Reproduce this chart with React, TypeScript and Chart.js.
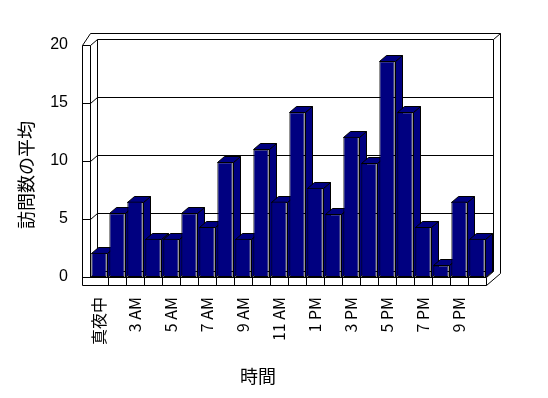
import React, { useEffect, useRef } from 'react';
import { Chart, registerables } from 'chart.js';
Chart.register(...registerables);

const hours = ['真夜中', '1 AM', '3 AM', '4 AM', '5 AM', '6 AM', '7 AM', '8 AM', '9 AM', '10 AM', '11 AM', '正午', '1 PM', '2 PM', '3 PM', '4 PM', '5 PM', '6 PM', '7 PM', '8 PM', '9 PM', '10 PM'];
const avgVisits = [2.1, 5.5, 6.5, 3.3, 3.3, 5.5, 4.3, 9.9, 3.3, 11.0, 6.5, 14.2, 7.7, 5.4, 12.1, 9.8, 18.6, 14.2, 4.3, 1.0, 6.5, 3.3];
const yTicks = [0, 5, 10, 15, 20];
const xTitle = '時間';
const yTitle = '訪問数の平均';

const NAVY = '#000080';
const DX = 7;
const DY = -6;
const WALL = 8;

const h = (v: number) => Math.round(v) + 0.5;

const frame3d = {
  id: 'frame3d',
  beforeDatasetsDraw(chart: any) {
    const { ctx, chartArea: a, scales } = chart;
    const ys = scales.y;
    const xs = scales.x;
    const L = a.left, R = a.right, T = a.top, B = a.bottom;
    ctx.save();
    ctx.lineWidth = 1;
    ctx.strokeStyle = '#000';
    const line = (pts: number[][]) => {
      ctx.beginPath();
      pts.forEach(([px, py], i) => (i ? ctx.lineTo(h(px), h(py)) : ctx.moveTo(h(px), h(py))));
      ctx.stroke();
    };
    // left wall front face
    line([[L - WALL, T], [L - WALL, B + WALL]]);
    line([[L, T], [L, B]]);
    // left wall top going back
    line([[L - WALL, T], [L, T + 2 * DY]]);
    // back wall outer top & right edge
    line([[L, T + 2 * DY], [R + 2 * DX, T + 2 * DY]]);
    line([[R + DX, T + DY], [R + 2 * DX, T + 2 * DY]]);
    line([[R + 2 * DX, T + 2 * DY], [R + 2 * DX, B + 2 * DY + WALL]]);
    // back wall inner face edges
    line([[L + DX, T + DY], [L + DX, B + DY]]);
    line([[R + DX, T + DY], [R + DX, B + DY]]);
    // gridlines
    yTicks.forEach((v) => {
      if (v === 0) return;
      const yy = ys.getPixelForValue(v);
      line([[L - WALL, yy], [L, yy], [L + DX, yy + DY], [R + DX, yy + DY]]);
    });
    // floor
    line([[L, B], [L + DX, B + DY], [R + DX, B + DY]]);
    line([[L - WALL, B], [R, B], [R + DX, B + DY]]);
    line([[L - WALL, B + WALL], [R, B + WALL], [R + 2 * DX, B + WALL + 2 * DY]]);
    line([[R, B], [R, B + WALL]]);
    for (let i = 1; i < hours.length; i++) {
      const xx = (xs.getPixelForValue(i - 1) + xs.getPixelForValue(i)) / 2;
      line([[xx, B], [xx, B + WALL]]);
    }
    // bar sides & tops
    const meta = chart.getDatasetMeta(0);
    ctx.fillStyle = NAVY;
    meta.data.forEach((el: any) => {
      const p = el.getProps(['x', 'y', 'base', 'width'], true);
      const l = Math.round(p.x - p.width / 2);
      const r = Math.round(p.x + p.width / 2);
      const top = Math.round(p.y);
      const base = Math.round(p.base);
      const poly = (pts: number[][]) => {
        ctx.beginPath();
        pts.forEach(([px, py], i) => (i ? ctx.lineTo(px + 0.5, py + 0.5) : ctx.moveTo(px + 0.5, py + 0.5)));
        ctx.closePath();
        ctx.fill();
        ctx.stroke();
      };
      poly([[r, top], [r + DX, top + DY], [r + DX, base + DY], [r, base]]);
      poly([[l, top], [l + DX, top + DY], [r + DX, top + DY], [r, top]]);
    });
    ctx.restore();
  },
  afterDraw(chart: any) {
    const { ctx } = chart;
    ctx.save();
    ctx.fillStyle = '#000';
    ctx.font = '18px "Noto Sans CJK JP"';
    ctx.textAlign = 'center';
    ctx.textBaseline = 'middle';
    ctx.fillText(xTitle, 258, 376);
    ctx.translate(26, 175);
    ctx.rotate(-Math.PI / 2);
    ctx.fillText(yTitle, 0, 0);
    ctx.restore();
  },
};

export default function App() {
  const ref = useRef<HTMLCanvasElement | null>(null);
  useEffect(() => {
    if (!ref.current) return;
    const chart = new Chart(ref.current, {
      type: 'bar',
      data: {
        labels: hours,
        datasets: [
          {
            data: avgVisits,
            backgroundColor: NAVY,
            borderColor: '#000',
            borderWidth: 1,
            borderSkipped: false,
            categoryPercentage: 1,
            barPercentage: 0.85,
          },
        ],
      },
      options: {
        animation: false,
        responsive: true,
        maintainAspectRatio: false,
        layout: { padding: { left: 0, right: 62, top: 45, bottom: 0 } },
        plugins: { legend: { display: false }, tooltip: { enabled: false }, title: { display: false } },
        scales: {
          x: {
            grid: { display: false, drawTicks: false },
            border: { display: false },
            afterFit: (s: any) => {
              s.height = 121;
            },
            ticks: {
              autoSkip: false,
              minRotation: 90,
              maxRotation: 90,
              padding: 20,
              color: '#000',
              font: { family: '"Noto Sans CJK JP"', size: 16 },
              callback: (_v: any, i: number) => (i % 2 === 0 ? hours[i] : ''),
            },
          },
          y: {
            min: 0,
            max: 20,
            grid: { display: false, drawTicks: false },
            border: { display: false },
            afterFit: (s: any) => {
              s.width = 90;
            },
            ticks: {
              stepSize: 5,
              padding: 22,
              color: '#000',
              font: { family: '"Liberation Sans"', size: 16 },
            },
          },
        },
      },
      plugins: [frame3d],
    });
    return () => chart.destroy();
  }, []);
  return (
    <div style={{ position: 'fixed', left: 0, top: 0, width: 548, height: 398, background: '#fff' }}>
      <canvas ref={ref} />
    </div>
  );
}
